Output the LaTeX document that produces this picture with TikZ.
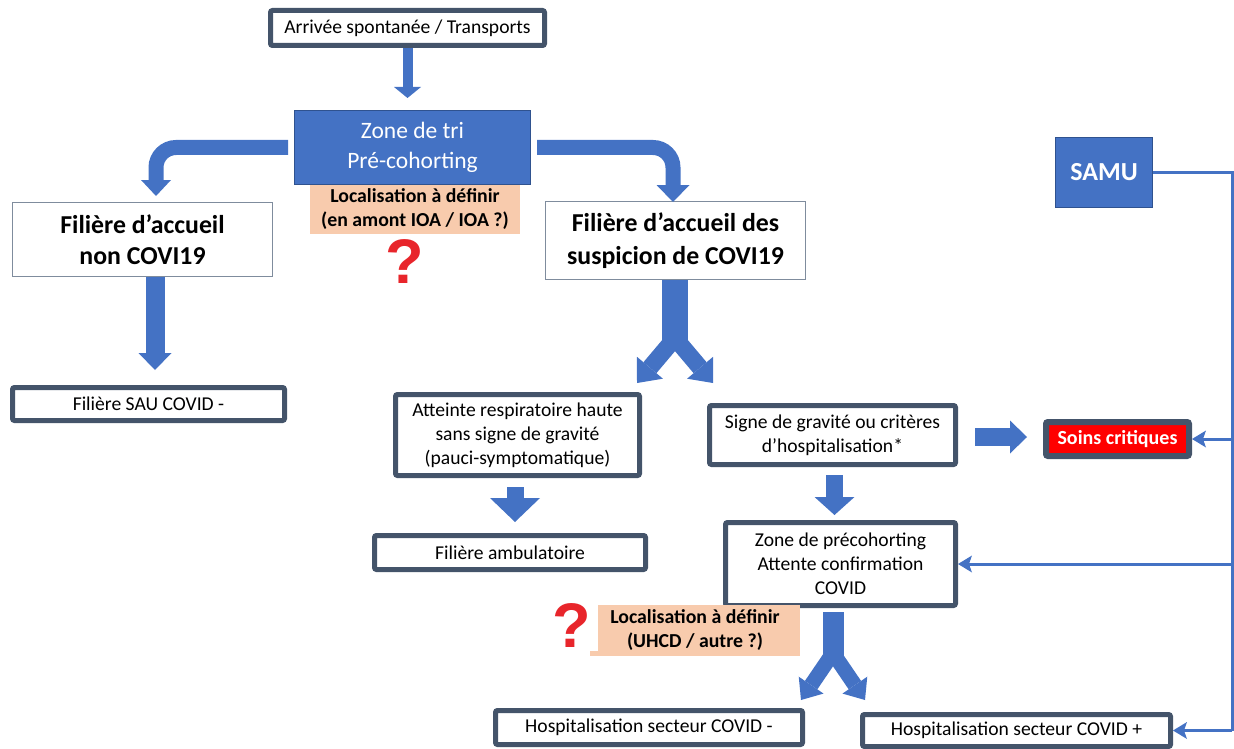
\documentclass[tikz,border=0pt]{standalone}
\usepackage{fontspec}
\setmainfont{Carlito}
\newfontfamily\qfont{Liberation Sans}
\usetikzlibrary{arrows.meta,calc}
\definecolor{bblue}{HTML}{4472C4}
\definecolor{bborder}{HTML}{2F528F}
\definecolor{boxdark}{HTML}{44546A}
\definecolor{lightframe}{HTML}{7F8C9D}
\definecolor{orangefill}{HTML}{F8CBAD}
\definecolor{qred}{HTML}{E8252B}
\tikzset{
  darkbox/.style={draw=boxdark, line width=5pt, fill=white, rounded corners=2pt, inner sep=0pt, align=center, font=\fontsize{19.6}{24}\selectfont},
  lightbox/.style={draw=lightframe, line width=1.2pt, fill=white, inner sep=0pt, align=center, font=\fontsize{25.8}{31}\selectfont\bfseries},
  bluebox/.style={draw=bborder, line width=1pt, fill=bblue, text=white, inner sep=0pt, align=center},
  orangebox/.style={fill=orangefill, inner sep=0pt, align=center, font=\fontsize{19.8}{24}\selectfont\bfseries},
  soinsbox/.style={draw=boxdark, line width=6pt, fill=red, rounded corners=2pt, text=white, inner sep=0pt, align=center, font=\fontsize{20}{22}\selectfont\bfseries},
  qmark/.style={text=qred, inner sep=0pt, font=\fontsize{63}{63}\qfont\bfseries},
  blk/.style args={#1/#2/#3}{draw=bblue, line width=#1, -{Triangle[width=#2, length=#3, line width=0pt]}},
  samuline/.style={draw=bblue, line width=3pt},
  samuarrow/.style={samuline, -{Stealth[length=14pt, width=17pt, inset=3pt, line width=0pt]}},
}
\begin{document}
\begin{tikzpicture}[x=1pt,y=-1pt]
\useasboundingbox (0,0) rectangle (1234,749);
% nodes
\node[darkbox, minimum width=274pt, minimum height=35pt] (arr) at (407.5,28) {Arrivée spontanée / Transports};
\node[orangebox, minimum width=210pt, minimum height=49pt] (loc1) at (415,209.5) {Localisation à définir\\(en amont IOA / IOA ?)};
\node[bluebox, minimum width=236pt, minimum height=74pt, font=\fontsize{23.5}{30}\selectfont] (zone) at (412.5,147.5) {Zone de tri\\Pré-cohorting};
\node[qmark] (q1) at (405,262) {?};
\node[lightbox, minimum width=260pt, minimum height=74pt] (nonc) at (142.5,239.5) {Filière d’accueil\\non COVI19};
\node[darkbox, minimum width=272pt, minimum height=33pt] (sau) at (148.5,404) {Filière SAU COVID -};
\node[lightbox, minimum width=260pt, minimum height=78pt, font=\fontsize{25.8}{33}\selectfont\bfseries] (susp) at (675.5,240.5) {Filière d’accueil des\\suspicion de COVI19};
\node[darkbox, minimum width=244pt, minimum height=81pt] (att) at (517.5,435) {Atteinte respiratoire haute\\sans signe de gravité\\(pauci-symptomatique)};
\node[darkbox, minimum width=271pt, minimum height=34pt] (amb) at (510,552.5) {Filière ambulatoire};
\node[darkbox, minimum width=246pt, minimum height=59pt] (sign) at (832.5,435) {Signe de gravité ou critères\\d’hospitalisation*};
\node[soinsbox, minimum width=143pt, minimum height=34pt] (soins) at (1117.5,439) {Soins critiques};
\node[darkbox, minimum width=230pt, minimum height=83pt] (zp) at (840.5,564) {Zone de précohorting\\Attente confirmation\\COVID};
\node[orangebox, minimum width=210pt, minimum height=51pt] (loc2) at (695,630.5) {Localisation à définir\\(UHCD / autre ?)};
\fill[white] (545,598) rectangle (598,651);
\node[qmark] (q2) at (572,625) {?};
\node[darkbox, minimum width=307pt, minimum height=34pt] (hm) at (649,727.5) {Hospitalisation secteur COVID -};
\node[darkbox, minimum width=308pt, minimum height=32pt] (hp) at (1016.5,730.5) {Hospitalisation secteur COVID +};
\node[bluebox, minimum width=97pt, minimum height=70pt, font=\fontsize{26}{30}\selectfont\bfseries] (samu) at (1104,172.5) {SAMU};
% tip coordinates
\coordinate (t1) at (407.5,98);
\coordinate (t2) at (156,196);
\coordinate (t3) at (673,202);
\coordinate (t4) at (155,370);
\coordinate (y1) at (675,338);
\coordinate (y1l) at (637,383);
\coordinate (y1r) at (713,383);
\coordinate (t6) at (515,522);
\coordinate (t7) at (834.5,515);
\coordinate (s8) at (975,437);
\coordinate (t8) at (1027,437);
\coordinate (y2) at (833,653);
\coordinate (y2l) at (801,700);
\coordinate (y2r) at (865,700);
\coordinate (c1) at (1232,172.5);
\coordinate (c2) at (1232,730.5);
% block arrows
\draw[blk=10pt/27pt/11pt] (arr.south) -- (t1);
\draw[blk=15pt/30pt/16pt, rounded corners=20pt] ([xshift=-6pt]zone.west) -| (t2);
\draw[blk=15pt/33pt/17pt, rounded corners=20pt] ([xshift=6pt]zone.east) -| (t3);
\draw[blk=19pt/33pt/17pt] (nonc.south -| t4) -- (t4);
\draw[draw=bblue, line width=26pt] (susp.south -| y1) -- ([yshift=-8pt]y1);
\draw[blk=17pt/34pt/20pt] (y1) -- (y1l);
\draw[blk=17pt/34pt/20pt] (y1) -- (y1r);
\draw[blk=17pt/50pt/24pt] ([yshift=-9pt]att.south -| t6) -- (t6);
\draw[blk=17pt/40pt/18pt] ([yshift=-8pt]sign.south -| t7) -- (t7);
\draw[blk=18pt/33pt/17pt] (s8) -- (t8);
\draw[draw=bblue, line width=21pt] ([yshift=-4pt]zp.south -| y2) -- ([yshift=-8pt]y2);
\draw[blk=15pt/30pt/18pt] (y2) -- (y2l);
\draw[blk=15pt/30pt/18pt] (y2) -- (y2r);
% SAMU lines
\draw[samuline] (samu.east) -- (c1) -- (c2);
\draw[samuarrow] (c2) -- (hp.east);
\draw[samuarrow] (c1 |- soins.east) -- (soins.east);
\draw[samuarrow] (c1 |- zp.east) -- (zp.east);
\end{tikzpicture}
\end{document}
